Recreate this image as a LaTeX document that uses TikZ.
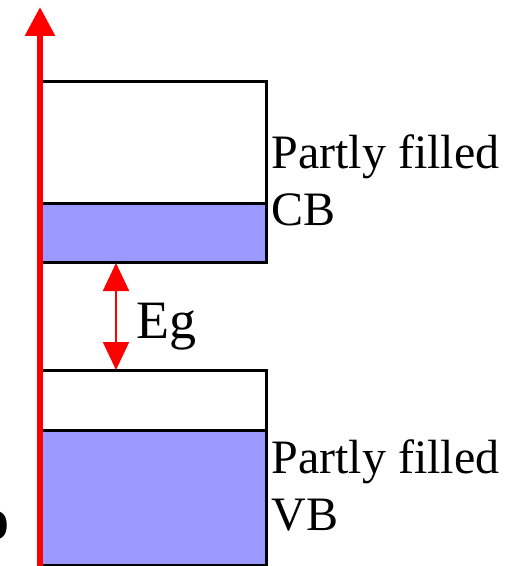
\documentclass[tikz,border=0pt]{standalone}
\usepackage{fontspec}
\setmainfont{Liberation Serif}
\usetikzlibrary{arrows.meta}
\definecolor{bandblue}{RGB}{153,153,255}

\begin{document}
\begin{tikzpicture}[x=0.5pt,y=-0.5pt,
	bandedge/.style={draw=black, line width=1.5pt},
	bandtext/.style={anchor=base west, inner sep=0pt, font=\fontsize{24}{28}\selectfont},
	]
	\useasboundingbox (0,0) rectangle (513,566);
	\clip (0,0) rectangle (513,566);

	% conduction band
	\fill[bandblue] (40,204) rectangle (266,263);
	\draw[bandedge] (40,82) rectangle (266,263);
	\draw[bandedge] (40,204) -- (266,204);

	% valence band
	\fill[bandblue] (40,430) rectangle (266,565);
	\draw[bandedge] (40,370) rectangle (266,565);
	\draw[bandedge] (40,430) -- (266,430);

	% energy axis
	\coordinate (axisfoot) at (40,566);
	\coordinate (axistip) at (40,7);
	\draw[-{Triangle[width=14.5pt,length=14.5pt]}, red, line width=3pt] (axisfoot) -- (axistip);

	% gap
	\coordinate (gaptop) at (116,263);
	\coordinate (gapbot) at (116,370);
	\draw[{Triangle[width=13pt,length=14pt]}-{Triangle[width=13pt,length=14pt]}, red, line width=1pt] (gaptop) -- (gapbot);
	\node[bandtext, font=\fontsize{27}{30}\selectfont] (eg) at (136,338) {Eg};

	\node[bandtext] (cbtop) at (271,169) {Partly filled};
	\node[bandtext] (cbname) at (271,226) {CB};
	\node[bandtext] (vbtop) at (271,473) {Partly filled};
	\node[bandtext] (vbname) at (271,530) {VB};

	\node[anchor=east, inner sep=0pt, font=\bfseries\fontsize{30}{30}\selectfont] (cutoff) at (10,526) {o};

\end{tikzpicture}
\end{document}
